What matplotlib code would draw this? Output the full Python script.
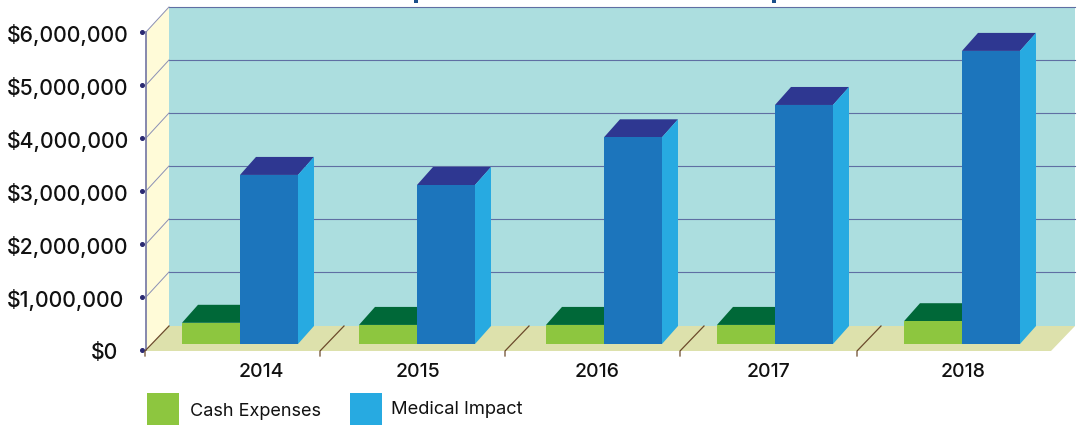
import matplotlib
matplotlib.use('Agg')
import matplotlib.pyplot as plt
from matplotlib.patches import Polygon

years = ['2014', '2015', '2016', '2017', '2018']
cash_expenses = [400000, 360000, 360000, 360000, 430000]
medical_impact = [3190000, 3000000, 3900000, 4510000, 5530000]
y_ticks = [0, 1000000, 2000000, 3000000, 4000000, 5000000, 6000000]
y_labels = ['$0', '$1,000,000', '$2,000,000', '$3,000,000', '$4,000,000', '$5,000,000', '$6,000,000']

plt.rcParams['font.family'] = ['Inter', 'Lato', 'DejaVu Sans']

W, H = 1081, 428
fig = plt.figure(figsize=(W / 100, H / 100), dpi=100)
ax = fig.add_axes([0, 0, 1, 1])
ax.axis('off')

# x axis is in pixels, y axis in dollars, 53 px per million
per_px = 1000000 / 53.0
base_px = 350
ax.set_xlim(0, W)
ax.set_ylim(-(H - base_px) * per_px, base_px * per_px)

def py(px):
    return (base_px - px) * per_px

def poly(points, color, z=1, edge='none'):
    ax.add_patch(Polygon([(x, py(y)) for x, y in points], closed=True, facecolor=color,
                         edgecolor=edge, linewidth=0.6, zorder=z))

# walls and floor
poly([(169, 7), (1075, 7), (1075, 326), (169, 326)], '#acdedf')
poly([(146, 32), (169, 7), (169, 326), (146, 351)], '#fffbd8')
poly([(146, 351), (169, 326), (1075, 326), (1051, 351)], '#dde1ac')

# gridlines, with the slanted part on the side wall
for t in y_ticks[1:]:
    y_front = t
    y_back = t + 25 * per_px
    ax.plot([169, 1075], [y_back, y_back], color='#5f6fa3', lw=0.8, zorder=2)
    ax.plot([146, 169], [y_front, y_back], color='#8a8fb5', lw=0.7, zorder=2)
    ax.plot([141.5], [t], marker='o', ms=2.6, color='#2b2a72', zorder=3)
ax.plot([141.5], [0], marker='o', ms=2.6, color='#2b2a72', zorder=3)
ax.plot([146, 146], [0, 6000000], color='#7d7fa8', lw=1.3, zorder=3)

# category separators on the floor
for x in [145, 320, 505, 680, 857]:
    ax.plot([x, x, x + 24], [py(356), py(351), py(326)], color='#6b4a2b', lw=0.9, zorder=3)

group_x = [240, 417, 604, 775, 962]
label_x = [261, 418, 597, 768, 963]
bar_w = 58
depth_x = 16
bar_base = 344
depth_y = 18 * per_px

def bar3d(x, value, front, top, side):
    y0 = py(bar_base)
    y1 = y0 + value
    ax.bar(x, value, bar_w, bottom=y0, align='edge', color=front, zorder=5)
    ax.add_patch(Polygon([(x, y1), (x + depth_x, y1 + depth_y), (x + bar_w + depth_x, y1 + depth_y), (x + bar_w, y1)],
                         closed=True, facecolor=top, edgecolor='none', zorder=4))
    ax.add_patch(Polygon([(x + bar_w, y0), (x + bar_w + depth_x, y0 + depth_y), (x + bar_w + depth_x, y1 + depth_y), (x + bar_w, y1)],
                         closed=True, facecolor=side, edgecolor='none', zorder=4))

for i in range(len(years)):
    bar3d(group_x[i] - bar_w, cash_expenses[i], '#8dc63f', '#006838', '#8dc63f')
    bar3d(group_x[i], medical_impact[i], '#1c75bc', '#2e3791', '#27aae1')

# tick labels
for t, label in zip(y_ticks, y_labels):
    left = 91 if t == 0 else 7
    ax.text(left, t - 3 * per_px, label, ha='left', va='center', fontsize=15.3, fontweight='medium', color='#111111', zorder=6)
for i, year in enumerate(years):
    ax.text(label_x[i], py(372), year, ha='center', va='center', fontsize=14, fontweight='medium', color='#111111')

# legend
poly([(147, 393), (179, 393), (179, 425), (147, 425)], '#8dc63f')
poly([(350, 393), (382, 393), (382, 425), (350, 425)], '#27aae1')
ax.text(190, py(412), 'Cash Expenses', ha='left', va='center', fontsize=13, color='#111111')
ax.text(391, py(410), 'Medical Impact', ha='left', va='center', fontsize=13.2, color='#111111')

# specks left by the cropped title at the top edge
for x in [414, 772]:
    poly([(x, 0), (x + 4, 0), (x + 4, 3), (x, 3)], '#1b4f8a')

fig.savefig('out.png', dpi=100)
